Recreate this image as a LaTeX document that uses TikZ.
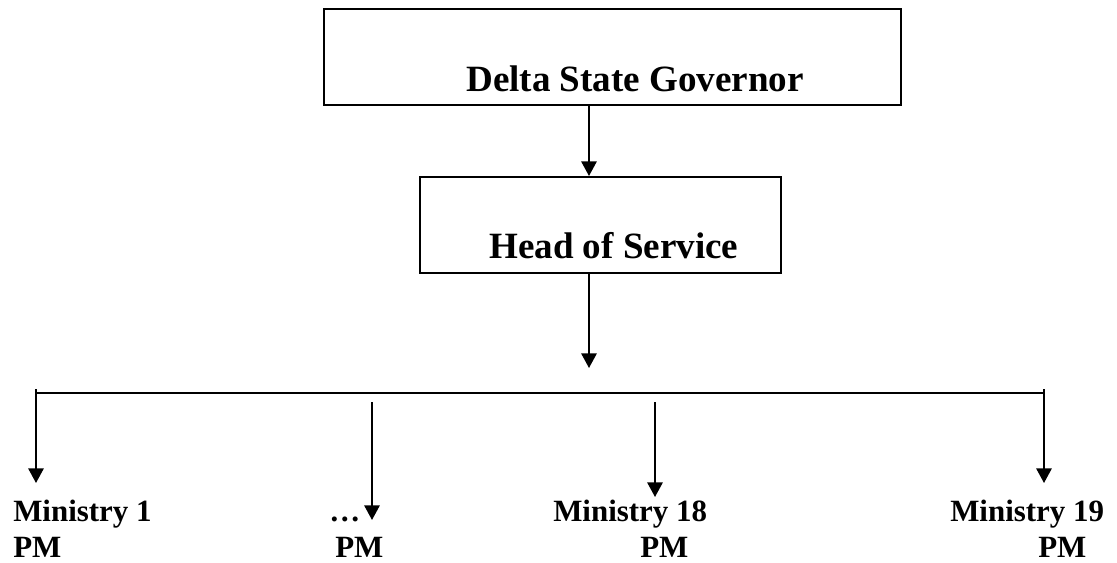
\documentclass[tikz,border=0pt]{standalone}
\usepackage{fontspec}
\setmainfont{Liberation Serif}
\usetikzlibrary{arrows.meta}

\tikzset{
  box/.style={draw, rectangle, line width=1.5pt, inner sep=0pt},
  boxtext/.style={anchor=base west, inner sep=0pt, font=\fontsize{27.8}{33}\selectfont\bfseries},
  mintext/.style={anchor=base west, inner sep=0pt, font=\fontsize{23.2}{28}\selectfont\bfseries},
  arr/.style={line width=1.5pt, -{Triangle[length=11pt, width=11.5pt]}},
  bus/.style={line width=1.1pt},
}

\begin{document}
\begin{tikzpicture}[x=0.75pt, y=-0.75pt]
  \useasboundingbox (0,0) rectangle (1117,562);

  % Boxes
  \node[box, minimum width=432.75pt, minimum height=72pt] (gov) at (612.5,57) {};
  \node[box, minimum width=270.75pt, minimum height=72pt] (hos) at (600.5,225) {};
  \node[boxtext] (govtext) at (466,91) {Delta State Governor};
  \node[boxtext] (hostext) at (489,258) {Head of Service};

  \coordinate (spine) at (589,0);
  \coordinate (drop) at (589,368);
  \coordinate (busL) at (36,393);
  \coordinate (busR) at (1044,393);

  % Arrows down the middle
  \draw[arr] (gov.south -| spine) -- (hos.north -| spine);
  \draw[arr] (hos.south -| spine) -- (drop);

  % Bus
  \draw[bus] (busL) -- (busR);

  % Branches
  \foreach \i/\x/\t/\b in {1/36/389/483, 2/372/402/520, 3/655/402/497, 4/1044/389/483} {
    \coordinate (s\i) at (\x,\t);
    \coordinate (e\i) at (\x,\b);
    \draw[arr] (s\i) -- (e\i);
  }

  % Ministries
  \node[mintext] (min1)  at (13,521)   {Ministry 1};
  \node[mintext] (pm1)   at (13,557)   {PM};
  \node[mintext] (dots)  at (329,521)  {…};
  \node[mintext] (pm2)   at (335,557)  {PM};
  \node[mintext] (min18) at (553,521)  {Ministry 18};
  \node[mintext] (pm18)  at (640,557)  {PM};
  \node[mintext] (min19) at (950,521)  {Ministry 19};
  \node[mintext] (pm19)  at (1038,557) {PM};

\end{tikzpicture}
\end{document}
